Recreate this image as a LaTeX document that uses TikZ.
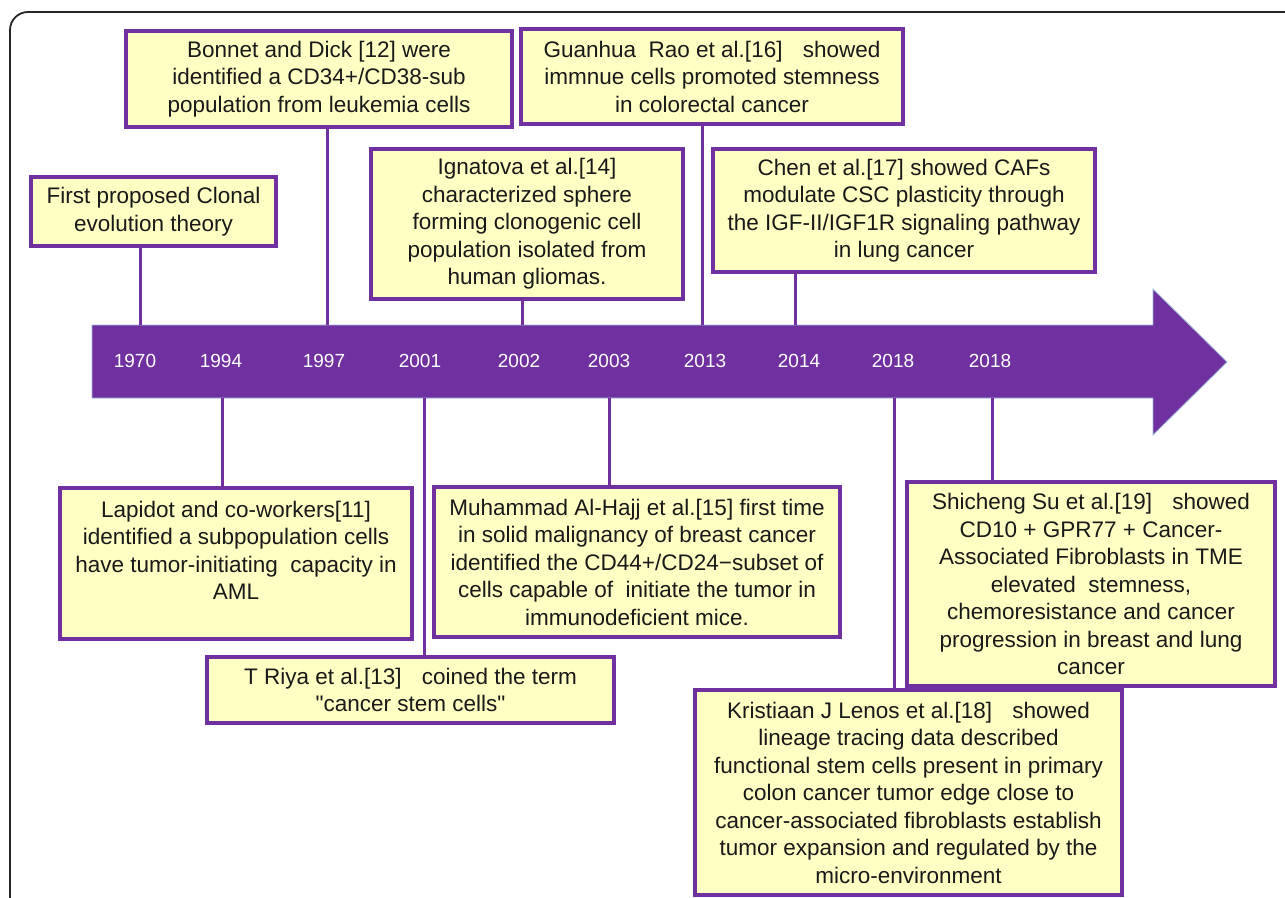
\documentclass[tikz,border=0pt]{standalone}
\usepackage{fontspec}
\setmainfont{Liberation Sans}[Ligatures=TeXOff]
\definecolor{purp}{HTML}{7030A0}
\definecolor{yel}{HTML}{FFFFC4}
\definecolor{edgeblue}{HTML}{9DB8D9}
\newcommand\boxfont{\fontsize{22.5}{27.5}\selectfont}
\newcommand\yearfont{\fontsize{19}{22}\selectfont}
\newcommand\sq{\symbol{34}}
\begin{document}
\begin{tikzpicture}[x=1pt,y=-1pt,
  evbox/.style={draw=purp, line width=3.2pt, fill=yel, align=center, inner sep=0pt,
    font=\boxfont, text=black!90},
  conn/.style={draw=purp, line width=3pt},
  yearlbl/.style={text=white, font=\yearfont, inner sep=0pt}]
\useasboundingbox (0,0) rectangle (1285,897);
\begin{scope}
\clip (0,0) rectangle (1285,897);
\draw[black!85, line width=1.8pt, rounded corners=18pt] (10,12) rectangle (1330,950);
\end{scope}

% arrow
\path[fill=purp, draw=edgeblue, line width=0.8pt]
  (92,325) -- (1153,325) -- (1153,289) -- (1227,362) -- (1153,435) -- (1153,398) -- (92,398) -- cycle;

% coordinates on the arrow edges
\coordinate (c1970) at (140,325);
\coordinate (c1997) at (327,325);
\coordinate (c2002) at (522,325);
\coordinate (c2013) at (702,325);
\coordinate (c2014) at (795,325);
\coordinate (c1994) at (222,398);
\coordinate (c2001) at (424,398);
\coordinate (c2003) at (609,398);
\coordinate (c2018a) at (894,398);
\coordinate (c2018b) at (992,398);

% year labels
\node[yearlbl] (y1970) at (135,361) {1970};
\node[yearlbl] (y1994) at (221,361) {1994};
\node[yearlbl] (y1997) at (324,361) {1997};
\node[yearlbl] (y2001) at (420,361) {2001};
\node[yearlbl] (y2002) at (519,361) {2002};
\node[yearlbl] (y2003) at (609,361) {2003};
\node[yearlbl] (y2013) at (705,361) {2013};
\node[yearlbl] (y2014) at (799,361) {2014};
\node[yearlbl] (y2018a) at (893,361) {2018};
\node[yearlbl] (y2018b) at (990,361) {2018};

% boxes
\node[evbox, minimum width=245, minimum height=69] (first) at (153.5,211.5)
  {First proposed Clonal\\evolution theory};
\node[evbox, minimum width=386, minimum height=96] (bonnet) at (319,79)
  {Bonnet and Dick [12] were\\identified a CD34+/CD38-sub\\population from leukemia cells};
\node[evbox, minimum width=382, minimum height=95] (rao) at (712,76.5)
  {Guanhua\ \ Rao et al.[16]\hspace{0.9em}showed\\immnue cells promoted stemness\\in colorectal cancer};
\node[evbox, minimum width=312, minimum height=150] (ign) at (527,224)
  {Ignatova et al.[14]\\characterized sphere\\forming clonogenic cell\\population isolated from\\human gliomas.};
\node[evbox, minimum width=382, minimum height=123] (chen) at (904,210.5)
  {Chen et al.[17] showed CAFs\\modulate CSC plasticity through\\the IGF-II/IGF1R signaling pathway\\in lung cancer};
\node[evbox, minimum width=352, minimum height=151] (lapidot) at (236,563.5)
  {\parbox[c][151pt][t]{352pt}{\vspace*{13pt}\centering Lapidot and co-workers[11]\\identified a subpopulation cells\\have tumor-initiating\ \ capacity in\\AML}};
\node[evbox, minimum width=407, minimum height=66] (riya) at (410.5,690)
  {T Riya et al.[13]\hspace{0.9em}coined the term\\\sq cancer stem cells\sq};
\node[evbox, minimum width=406, minimum height=150] (hajj) at (637,562)
  {Muhammad Al-Hajj et al.[15] first time\\in solid malignancy of breast cancer\\identified the CD44+/CD24−subset of\\cells capable of\ \ initiate the tumor in\\immunodeficient mice.};
\node[evbox, minimum width=368, minimum height=204] (su) at (1091,584)
  {Shicheng Su et al.[19]\hspace{0.9em}showed\\CD10 + GPR77 + Cancer-\\Associated Fibroblasts in TME\\elevated\ \ stemness,\\chemoresistance and cancer\\progression in breast and lung\\cancer};
\node[evbox, minimum width=427, minimum height=205] (lenos) at (908.5,792.5)
  {Kristiaan J Lenos et al.[18]\hspace{0.9em}showed\\lineage tracing data described\\functional stem cells present in primary\\colon cancer tumor edge close to\\cancer-associated fibroblasts establish\\tumor expansion and regulated by the\\micro-environment};

% connectors
\draw[conn] (first.south -| c1970) -- (c1970);
\draw[conn] (bonnet.south -| c1997) -- (c1997);
\draw[conn] (ign.south -| c2002) -- (c2002);
\draw[conn] (rao.south -| c2013) -- (c2013);
\draw[conn] (chen.south -| c2014) -- (c2014);
\draw[conn] (c1994) -- (lapidot.north -| c1994);
\draw[conn] (c2001) -- (riya.north -| c2001);
\draw[conn] (c2003) -- (hajj.north -| c2003);
\draw[conn] (c2018a) -- (lenos.north -| c2018a);
\draw[conn] (c2018b) -- (su.north -| c2018b);
\end{tikzpicture}
\end{document}
